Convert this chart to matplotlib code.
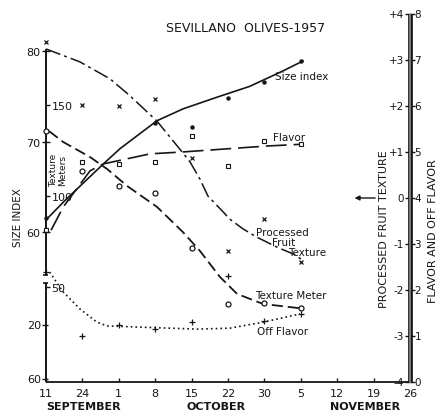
import matplotlib
matplotlib.use("Agg")
import matplotlib.pyplot as plt
import matplotlib.transforms as mtransforms

plt.rcParams['font.family'] = ['DejaVu Sans']
plt.rcParams['lines.scale_dashes'] = False

INK = '#161616'

# Horizontal axis: sampling dates, evenly spaced
date_labels = ['11', '24', '1', '8', '15', '22', '30', '5', '12', '19', '26']
date_pos = list(range(len(date_labels)))
months = ['SEPTEMBER', 'OCTOBER', 'NOVEMBER']
month_pos = [1.02, 4.67, 8.77]

# Size index (left scale, 60-80)
size_x = [0, 3, 4, 5, 6, 7]
size_pts = [61.5, 72.0, 71.6, 74.8, 76.6, 78.9]
size_curve_x = [0.05, 0.55, 1.57, 2.03, 3.05, 3.76, 4.7, 5.6, 6.51, 7.06]
size_curve = [61.55, 63.6, 67.5, 69.2, 72.3, 73.6, 74.9, 76.1, 77.8, 78.9]

# Texture meter readings (inner left scale, 50-150)
meter_x = [0, 1, 2, 3, 4, 5, 6, 7]
meter_pts = [135.7, 113.7, 105.5, 101.6, 71.4, 40.7, 41.2, 38.5]
meter_curve_x = [0.08, 0.47, 1.21, 1.68, 2.23, 3.05, 3.76, 4.23, 4.78, 5.25, 5.96, 6.9, 7.06]
meter_curve = [135.7, 129.7, 121.4, 114.8, 105.5, 94.0, 80.2, 69.8, 55.5, 46.2, 40.7, 38.5, 38.5]

# Processed fruit texture (inner right scale, -4..+4)
texture_x = [0, 1, 2, 3, 4, 5, 6, 7]
texture_pts = [3.39, 2.02, 2.0, 2.15, 0.87, -1.15, -0.46, -1.39]
texture_curve_x = [0.0, 0.93, 1.76, 2.31, 3.05, 3.74, 3.96, 4.23, 4.45, 4.84, 5.05,
                   5.41, 5.79, 6.35, 6.89, 7.0]
texture_curve = [3.24, 2.96, 2.59, 2.22, 1.67, 1.0, 0.78, 0.41, 0.04, -0.28, -0.46,
                 -0.67, -0.85, -1.07, -1.25, -1.33]

# Flavor and off flavor (outer right scale, 0-8)
flavor_x = [0, 1, 2, 3, 4, 5, 6, 7]
flavor_pts = [3.30, 4.78, 4.74, 4.78, 5.35, 4.70, 5.25, 5.17]
flavor_curve_x = [0.14, 0.47, 1.21, 1.57, 2.86, 3.74, 6.07, 7.06]
flavor_curve = [3.30, 3.80, 4.59, 4.74, 4.96, 5.0, 5.13, 5.17]

off_x = [0, 1, 2, 3, 4, 5, 6, 7]
off_pts = [2.39, 1.0, 1.24, 1.15, 1.30, 2.30, 1.33, 1.48]
off_curve_x = [0.1, 0.47, 0.93, 1.4, 1.68, 2.31, 4.15, 5.05, 5.96, 6.98]
off_curve = [2.39, 1.96, 1.59, 1.30, 1.22, 1.20, 1.15, 1.17, 1.30, 1.48]

# Axis tick labels
size_ticks = [60, 70, 80]
meter_ticks = [50, 100, 150]
texture_ticks = [4, 3, 2, 1, 0, -1, -2, -3, -4]
texture_tick_labels = ['+4', '+3', '+2', '+1', '0', '-1', '-2', '-3', '-4']
flavor_tick_labels = ['8', '7', '6', '5', '4', '3', '2', '1', '0']
low_left_ticks = [-2.76, -3.93]
low_left_labels = ['20', '60']

fig = plt.figure(figsize=(4.47, 4.14), dpi=100)
fig.patch.set_facecolor('white')
ax = fig.add_axes([46 / 447, 31 / 414, 364 / 447, 368 / 414])
ax_fl = ax.twinx()
ax_si = ax.twinx()
ax_tm = ax.twinx()

ax.set_xlim(0, 10)
ax.set_ylim(-4, 4)
ax_fl.set_ylim(0, 8)
ax_si.set_ylim(43.43, 84.09)
ax_tm.set_ylim(-2.2, 200.0)

for a in (ax, ax_fl, ax_si, ax_tm):
    for s in a.spines.values():
        s.set_visible(False)
    a.patch.set_visible(False)

# Frame lines drawn by hand (broken left axis, double right axis)
kw = dict(color=INK, clip_on=False, solid_capstyle='butt')
ax.plot([0, 0], [3.239, -1.674], lw=1.4, **kw)
ax.plot([0, 0], [-1.848, -4], lw=1.4, **kw)
ax.plot([-0.09, 0.05], [-1.674, -1.674], lw=1.2, **kw)
ax.plot([-0.09, 0.05], [-1.848, -1.848], lw=1.2, **kw)
ax.plot([0, 10], [-4, -4], lw=1.3, **kw)
ax.plot([10, 10], [-4, 4], lw=3.4, **kw)
ax.plot([10, 10], [-4, 4], lw=1.2, color='#8c8c8c', clip_on=False)

# Bottom axis
ax.set_xticks(date_pos)
ax.set_xticklabels(date_labels, fontsize=8)
ax.tick_params(axis='x', direction='in', length=3, width=1, pad=4, colors=INK)
month_tr = mtransforms.blended_transform_factory(ax.transData, fig.transFigure)
for m, p in zip(months, month_pos):
    ax.text(p, 1 - 407 / 414, m, fontsize=8, fontweight='bold', ha='center',
            va='center', color=INK, transform=month_tr)

# Right axis ticks and labels
ax.yaxis.tick_right()
ax.set_yticks(texture_ticks)
ax.set_yticklabels([])
ax.tick_params(axis='y', direction='inout', length=7, width=1, colors=INK)
for v, lab in zip(texture_ticks, texture_tick_labels):
    ax.text(9.83, v, lab, fontsize=7.5, ha='right', va='center', color=INK)
for v, lab in zip(texture_ticks, flavor_tick_labels):
    ax.text(10.12, v, lab, fontsize=7.5, ha='left', va='center', color=INK)

ax_fl.set_yticks([])

# Left axis: size index (outside) and texture meter (inside)
ax_si.yaxis.tick_left()
ax_si.set_yticks(size_ticks)
ax_si.set_yticklabels([str(t) for t in size_ticks], fontsize=8)
ax_si.tick_params(axis='y', direction='inout', length=6, width=1, pad=1, colors=INK)

ax_tm.yaxis.tick_left()
ax_tm.set_yticks(meter_ticks)
ax_tm.set_yticklabels([str(t) for t in meter_ticks], fontsize=8)
ax_tm.tick_params(axis='y', direction='in', length=3, width=1, pad=-4, colors=INK)
for lbl in ax_tm.get_yticklabels():
    lbl.set_horizontalalignment('left')

for v, lab in zip(low_left_ticks, low_left_labels):
    ax.plot([-0.1, 0.06], [v, v], lw=1, **kw)
    ax.text(-0.14, v, lab, fontsize=8, ha='right', va='center', color=INK)

# Series
ax_si.plot(size_curve_x, size_curve, color=INK, lw=1.2)
ax_si.plot(size_x, size_pts, ls='none', marker='o', ms=2.2, color=INK, clip_on=False)

ax_tm.plot(meter_curve_x, meter_curve, color=INK, lw=1.3, dashes=(8, 3.5))
ax_tm.plot(meter_x, meter_pts, ls='none', marker='o', ms=3.6, mfc='white',
           mec=INK, mew=0.9, clip_on=False)

ax.plot(texture_curve_x, texture_curve, color=INK, lw=1.1, dashes=(11, 3, 2, 3))
ax.plot(texture_x, texture_pts, ls='none', marker='x', ms=3, mew=0.9, color=INK,
        clip_on=False)

ax_fl.plot(flavor_curve_x, flavor_curve, color=INK, lw=1.2, dashes=(15, 5))
ax_fl.plot(flavor_x, flavor_pts, ls='none', marker='s', ms=3, mfc='white',
           mec=INK, mew=0.8, clip_on=False)

ax_fl.plot(off_curve_x, off_curve, color=INK, lw=1.2, dashes=(1.2, 2.2))
ax_fl.plot(off_x, off_pts, ls='none', marker='+', ms=4, mew=0.9, color=INK,
           clip_on=False)

# Text inside the plot
ax.text(5.49, 3.70, 'SEVILLANO  OLIVES-1957', fontsize=9, ha='center',
        va='center', color=INK)
ax.text(6.29, 2.65, 'Size index', fontsize=7.5, ha='left', va='center', color=INK)
ax.text(6.24, 1.33, 'Flavor', fontsize=7.5, ha='left', va='center', color=INK)
ax.text(5.77, -0.74, 'Processed', fontsize=7.5, ha='left', va='center', color=INK)
ax.text(6.21, -0.96, 'Fruit', fontsize=7.5, ha='left', va='center', color=INK)
ax.text(6.65, -1.17, 'Texture', fontsize=7.5, ha='left', va='center', color=INK)
ax.text(5.74, -2.11, 'Texture Meter', fontsize=7.5, ha='left', va='center', color=INK)
ax.text(5.80, -2.89, 'Off Flavor', fontsize=7.5, ha='left', va='center', color=INK)
ax.text(0.33, 0.62, 'Texture\nMeters', fontsize=6.5, rotation=90, ha='center',
        va='center', linespacing=1.0, color=INK)

# Axis titles
fig.text(18 / 447, 1 - 218 / 414, 'SIZE INDEX', rotation=90, fontsize=7.5,
         ha='center', va='center', color=INK)
fig.text(384 / 447, 1 - 229 / 414, 'PROCESSED FRUIT TEXTURE', rotation=90,
         fontsize=8, ha='center', va='center', color=INK)
fig.text(433 / 447, 1 - 231 / 414, 'FLAVOR AND OFF FLAVOR', rotation=90,
         fontsize=8, ha='center', va='center', color=INK)
ax.annotate('', xy=(8.40, 0.0), xytext=(9.12, 0.0),
            arrowprops=dict(arrowstyle='-|>', color=INK, lw=1, mutation_scale=7),
            annotation_clip=False)

fig.savefig('out.png', dpi=100, facecolor='white')
